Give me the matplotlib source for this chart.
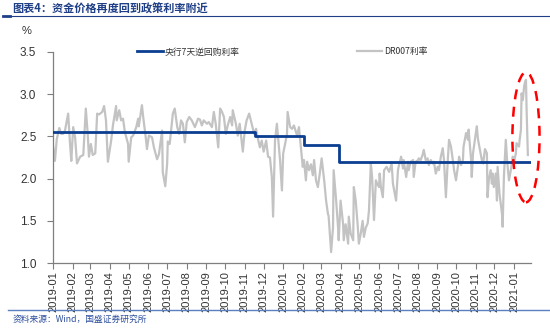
import matplotlib
matplotlib.use("Agg")
import matplotlib.pyplot as plt
import matplotlib.dates as mdates
from matplotlib.patches import Ellipse
import pandas as pd

plt.rcParams["font.family"] = ["Liberation Sans", "Noto Sans CJK SC", "DejaVu Sans"]

# ---- data ----
start_date = "2019-01-01"
# DR007 observation dates, as days after start_date
dr007_days = [
    0, 3, 6, 10, 13, 16, 19, 24, 27, 29, 32, 35, 38, 43, 48, 52, 55, 57, 60, 63,
    67, 70, 73, 78, 81, 84, 87, 92, 95, 100, 101, 105, 108, 111, 114, 119, 120, 124, 127, 132,
    135, 136, 141, 143, 147, 149, 152, 157, 160, 165, 168, 173, 174, 178, 181, 182, 185, 190, 193, 197,
    200, 203, 206, 209, 212, 216, 220, 225, 230, 233, 236, 239, 244, 247, 252, 255, 258, 262, 265, 268,
    271, 274, 277, 281, 284, 285, 290, 293, 296, 301, 304, 307, 311, 315, 319, 322, 325, 328, 331, 334,
    338, 341, 344, 347, 349, 352, 355, 360, 363, 365, 368, 371, 372, 376, 379, 382, 387, 390, 393, 396,
    398, 401, 403, 406, 409, 412, 414, 417, 420, 423, 426, 430, 433, 436, 437, 441, 444, 445, 449, 452,
    453, 456, 460, 461, 464, 468, 469, 472, 476, 477, 480, 483, 485, 488, 491, 493, 496, 499, 501, 504,
    506, 509, 512, 514, 517, 518, 520, 523, 525, 529, 533, 537, 539, 542, 544, 547, 548, 552, 555, 556,
    560, 563, 564, 567, 571, 572, 575, 579, 580, 583, 586, 588, 591, 594, 596, 599, 602, 604, 607, 610,
    612, 615, 618, 620, 623, 626, 628, 631, 634, 636, 639, 642, 644, 647, 650, 651, 655, 658, 659, 663,
    664, 666, 669, 672, 674, 677, 680, 682, 685, 688, 689, 691, 694, 696, 697, 699, 702, 704, 705, 708,
    712, 713, 715, 718, 720, 723, 726, 729, 731, 734, 735, 739, 740, 742, 743, 745, 747, 748, 750, 751,
    753,
]
dr007 = [
    2.39, 2.21, 2.47, 2.60, 2.53, 2.53, 2.57, 2.77, 2.41, 2.21, 2.61, 2.49, 2.18, 2.26, 2.28, 2.83, 2.53, 2.26, 2.41, 2.28,
    2.30, 2.77, 2.76, 2.79, 2.86, 2.69, 2.20, 2.44, 2.63, 2.86, 2.69, 2.81, 2.69, 2.71, 2.55, 2.41, 2.20, 2.49, 2.51, 2.61,
    2.71, 2.62, 2.87, 2.73, 2.49, 2.35, 2.51, 2.49, 2.37, 2.23, 2.29, 2.57, 2.08, 1.91, 2.18, 2.44, 2.41, 2.77, 2.83, 2.61,
    2.53, 2.69, 2.65, 2.43, 2.67, 2.73, 2.69, 2.61, 2.71, 2.70, 2.63, 2.69, 2.65, 2.67, 2.61, 2.79, 2.65, 2.37, 2.83, 2.79,
    2.73, 2.53, 2.63, 2.73, 2.63, 2.81, 2.65, 2.51, 2.65, 2.32, 2.57, 2.69, 2.77, 2.65, 2.53, 2.59, 2.47, 2.37, 2.45, 2.32,
    2.45, 2.26, 2.25, 2.02, 1.55, 2.45, 2.65, 2.22, 1.86, 2.30, 2.41, 2.53, 2.79, 2.61, 2.59, 2.63, 2.51, 2.61, 2.38, 2.14,
    2.22, 1.98, 2.20, 2.10, 2.17, 2.04, 2.22, 1.98, 1.90, 2.06, 2.24, 1.98, 1.74, 1.58, 1.56, 1.13, 1.42, 2.10, 1.74, 1.42,
    1.27, 1.74, 1.46, 1.27, 1.46, 1.23, 1.55, 1.35, 1.27, 1.90, 1.74, 1.46, 1.23, 1.35, 1.50, 1.31, 1.42, 1.47, 1.62, 2.18,
    2.02, 1.51, 1.98, 1.94, 1.90, 2.06, 1.90, 1.78, 2.10, 2.14, 2.08, 2.18, 1.94, 1.82, 1.74, 2.10, 2.14, 2.26, 2.12, 2.22,
    2.02, 2.20, 2.10, 2.20, 2.22, 2.02, 2.20, 2.22, 2.24, 2.22, 2.28, 2.34, 2.22, 2.24, 2.16, 2.22, 2.18, 2.20, 2.06, 2.14,
    2.10, 2.26, 2.36, 2.22, 1.78, 2.22, 2.46, 2.38, 2.22, 2.10, 1.98, 2.14, 2.26, 2.16, 2.22, 2.38, 2.54, 2.46, 2.58, 2.22,
    2.02, 2.30, 2.46, 2.62, 2.46, 2.34, 2.22, 2.18, 2.35, 2.30, 1.78, 1.98, 2.10, 1.94, 2.06, 1.90, 2.06, 1.74, 2.14, 1.82,
    1.58, 1.43, 2.02, 2.46, 2.22, 1.98, 2.10, 2.26, 2.20, 2.30, 2.42, 2.38, 2.46, 2.58, 3.01, 2.93, 3.09, 3.13, 3.17, 2.81,
    2.28,
]

# 7-day reverse repo rate: effective dates of each change
repo_dates = ["2019-01-01", "2019-11-18", "2020-02-03", "2020-03-30", "2021-01-28"]
repo_rate = [2.55, 2.50, 2.40, 2.20, 2.20]

series_labels = ["央行7天逆回购利率", "DR007利率"]
title_text = "图表4：资金价格再度回到政策利率附近"
source_text = "资料来源：Wind，国盛证券研究所"
y_ticks = [1.0, 1.5, 2.0, 2.5, 3.0, 3.5]

# ---- figure ----
fig = plt.figure(figsize=(5.5, 3.28), dpi=100)
ax = fig.add_axes([0.0964, 0.198, 0.8691, 0.6435])

base = pd.Timestamp(start_date)
dr_dates = base + pd.to_timedelta(dr007_days, unit="D")
rp_dates = pd.to_datetime(repo_dates)

blue = "#0B3D91"
grey = "#C3C3C3"

ax.plot(rp_dates, repo_rate, color=blue, lw=2.0, drawstyle="steps-post",
        label=series_labels[0], zorder=3)
ax.plot(dr_dates, dr007, color=grey, lw=1.6, label=series_labels[1], zorder=2)

ax.set_ylim(1.0, 3.5)
ax.set_yticks(y_ticks)
ax.set_yticklabels([f"{v:.1f}" for v in y_ticks])
ax.set_xlim(pd.Timestamp("2019-01-01"), pd.Timestamp("2021-01-28"))
ax.xaxis.set_major_locator(mdates.MonthLocator())
ax.xaxis.set_major_formatter(mdates.DateFormatter("%Y-%m"))
for lbl in ax.get_xticklabels():
    lbl.set_rotation(90)

for side in ("top", "right"):
    ax.spines[side].set_visible(False)
for side in ("left", "bottom"):
    ax.spines[side].set_color("#7F7F7F")
    ax.spines[side].set_linewidth(0.9)
ax.tick_params(axis="both", direction="out", length=4, width=0.8,
               color="#7F7F7F", labelsize=8, labelcolor="#333333", pad=2)
ax.tick_params(axis="y", pad=8, labelsize=8.5)

# highlight of the latest spike
x_c = mdates.date2num(pd.Timestamp("2021-01-20"))
ell = Ellipse((x_c, 2.49), width=43, height=1.54, fill=False,
              edgecolor="#FF0000", lw=1.8, ls=(0, (4, 3)), clip_on=False, zorder=4)
ax.add_patch(ell)

leg = ax.legend(loc="center left", bbox_to_anchor=(0.176, 1.0), ncol=2,
                frameon=False, columnspacing=13.4, handlelength=2.9,
                handletextpad=0.25, borderpad=0, borderaxespad=0,
                prop={"family": ["Noto Sans CJK SC"], "size": 6.3})
for t in leg.get_texts():
    t.set_color("#333333")

# header, unit label and source line
fig.text(0.022, 0.972, title_text, fontsize=8, fontweight="bold", style="italic",
         color="#1F3F86", ha="left", va="center",
         family=["Noto Sans CJK SC", "DejaVu Sans"])
fig.add_artist(plt.Line2D([0.005, 1.0], [0.951, 0.951], color="#1F3F86", lw=0.8))
fig.add_artist(plt.Line2D([0.005, 0.018], [0.951, 0.951], color="#1F3F86", lw=2.0))
fig.text(0.040, 0.905, "%", fontsize=8, color="#333333", ha="left", va="center")
fig.add_artist(plt.Line2D([0.015, 1.0], [0.054, 0.054], color="#5B7FC0", lw=1.0))
fig.text(0.022, 0.025, source_text, fontsize=6.3, style="italic", color="#2E4F9E",
         ha="left", va="center", family=["Noto Sans CJK SC", "DejaVu Sans"])

fig.savefig("out.png", dpi=100)
